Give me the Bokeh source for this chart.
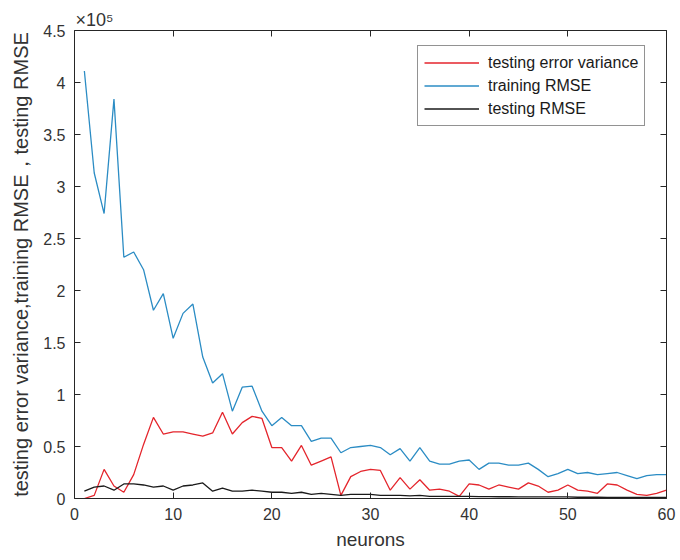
from bokeh.plotting import figure
from bokeh.models import (LinearAxis, Range1d, FixedTicker, CustomJSTickFormatter,
                          Legend, LegendItem, ColumnDataSource)
from bokeh.embed import file_html
from bokeh.resources import INLINE

# Hidden-layer size sweep
neurons = list(range(1, 61))

testing_error_variance = [
    0, 3000, 28000, 12000, 6000, 23000, 52000, 78000, 62000, 64000,
    64000, 62000, 60000, 63000, 83000, 62000, 73000, 79000, 77000, 49000,
    49000, 36000, 51000, 32000, 36000, 40000, 3000, 21000, 26000, 28000,
    27000, 8000, 20000, 9000, 18000, 8000, 9000, 7000, 2000, 14000,
    13000, 9000, 13000, 11000, 9000, 15000, 12000, 6000, 8000, 13000,
    8000, 7000, 5000, 14000, 13000, 8000, 4000, 3000, 5000, 8000,
]

training_rmse = [
    411000, 313000, 274000, 384000, 232000, 237000, 220000, 181000, 197000, 154000,
    178000, 187000, 136000, 111000, 120000, 84000, 107000, 108000, 84000, 70000,
    78000, 70000, 70000, 55000, 58000, 58000, 44000, 49000, 50000, 51000,
    49000, 42000, 48000, 36000, 49000, 36000, 33000, 33000, 36000, 37000,
    28000, 34000, 34000, 32000, 32000, 34000, 28000, 21000, 24000, 28000,
    24000, 25000, 23000, 24000, 25000, 22000, 19000, 22000, 23000, 23000,
]

testing_rmse = [
    7000, 11000, 12000, 8000, 14000, 14000, 13000, 11000, 12000, 8000,
    12000, 13000, 15000, 7000, 10000, 7000, 7000, 8000, 7000, 6000,
    6000, 5000, 6000, 4000, 5000, 4000, 3000, 4000, 4000, 4000,
    3000, 3000, 3000, 2500, 3000, 2000, 2000, 2000, 2000, 2000,
    1800, 1800, 1700, 1700, 1600, 1600, 1500, 1500, 1500, 1500,
    1200, 1200, 1200, 1100, 1100, 1000, 1000, 1000, 1000, 1000,
]

x_ticks = [0, 10, 20, 30, 40, 50, 60]
y_ticks = [0, 50000, 100000, 150000, 200000, 250000, 300000, 350000, 400000, 450000]

FONT = "Liberation Sans"
AXIS_COLOR = "#262626"
TEXT_COLOR = "#333333"

source = ColumnDataSource(dict(
    n=neurons,
    var=testing_error_variance,
    train=training_rmse,
    test=testing_rmse,
))

p = figure(
    width=680, height=560,
    output_backend="svg", toolbar_location=None,
    x_range=Range1d(0, 60), y_range=Range1d(0, 450000),
    min_border_left=74, min_border_right=14,
    min_border_top=30, min_border_bottom=62,
    x_axis_label="neurons",
    y_axis_label="testing error variance,training RMSE\uff0ctesting RMSE",
    title="\u00d710\u2075",
)
p.grid.visible = False
p.outline_line_color = None
p.background_fill_color = "white"
p.border_fill_color = "white"

# exponent marker for the y axis, sitting just above the frame
p.title.align = "left"
p.title.offset = 1
p.title.standoff = 1
p.title.text_font = FONT
p.title.text_font_size = "18px"
p.title.text_font_style = "normal"
p.title.text_color = TEXT_COLOR

y_fmt = CustomJSTickFormatter(code="return (tick / 1e5).toString();")
blank_fmt = CustomJSTickFormatter(code="return '';")


def style_axis(ax):
    ax.major_tick_in = 6
    ax.major_tick_out = 0
    ax.minor_tick_line_color = None
    ax.axis_line_color = AXIS_COLOR
    ax.major_tick_line_color = AXIS_COLOR
    ax.axis_line_width = 1
    ax.major_label_text_font = FONT
    ax.major_label_text_font_size = "16px"
    ax.major_label_text_color = TEXT_COLOR
    ax.axis_label_text_font = FONT
    ax.axis_label_text_font_style = "normal"
    ax.axis_label_text_color = TEXT_COLOR


xa = p.xaxis[0]
xa.ticker = FixedTicker(ticks=x_ticks)
style_axis(xa)
xa.axis_label_text_font_size = "19px"
xa.major_label_standoff = 9
xa.axis_label_standoff = 6

ya = p.yaxis[0]
ya.ticker = FixedTicker(ticks=y_ticks)
ya.formatter = y_fmt
style_axis(ya)
ya.axis_label_text_font_size = "20px"
ya.major_label_standoff = 9
ya.axis_label_standoff = 8

# box axes on the top and right, ticks only
top = LinearAxis(ticker=FixedTicker(ticks=x_ticks), formatter=blank_fmt)
style_axis(top)
top.major_label_standoff = 0
p.add_layout(top, "above")

right = LinearAxis(ticker=FixedTicker(ticks=y_ticks), formatter=blank_fmt)
style_axis(right)
right.major_label_standoff = 0
p.add_layout(right, "right")

r_var = p.line("n", "var", source=source, line_color="#e4252c", line_width=1.3)
r_train = p.line("n", "train", source=source, line_color="#2b8cc4", line_width=1.3)
r_test = p.line("n", "test", source=source, line_color="#1a1a1a", line_width=1.3)

legend = Legend(
    items=[
        LegendItem(label="testing error variance", renderers=[r_var]),
        LegendItem(label="training RMSE", renderers=[r_train]),
        LegendItem(label="testing RMSE", renderers=[r_test]),
    ],
    location=(343, 372), orientation="vertical",
    padding=6, spacing=2, margin=0,
    glyph_width=55, glyph_height=21, label_height=21, label_standoff=9,
    label_text_font=FONT, label_text_font_size="16px", label_text_color="#1a1a1a",
    border_line_color=AXIS_COLOR, border_line_width=1,
    background_fill_color="white", background_fill_alpha=1.0,
)
p.add_layout(legend, "center")

open("out.html", "w").write(file_html(p, INLINE))
